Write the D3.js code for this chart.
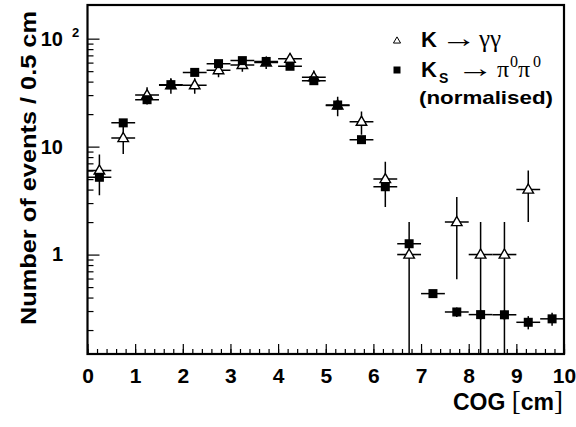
<!DOCTYPE html>
<html><head><meta charset="utf-8">
<script src="https://cdn.jsdelivr.net/npm/d3@7"></script>
<style>body{margin:0;background:#fff}</style>
</head><body>
<svg id="c" width="576" height="427"></svg>
<script>
// ---- data ----
const binCenters = [0.25,0.75,1.25,1.75,2.25,2.75,3.25,3.75,4.25,4.75,5.25,5.75,6.25,6.75,7.25,7.75,8.25,8.75,9.25,9.75];
const binHalfWidth = 0.25;
const kggCounts = [6,12,30,37,37,51,57,60,65,44,24,17,5,1,0,2,1,1,4,0];
const kggErrors = [2.45,3.46,5.48,6.08,6.08,7.14,7.55,7.75,8.06,6.63,4.9,4.12,2.24,1,0,1.41,1,1,2,0];
const ksValues = [5.2,16.6,27.2,37.5,48.7,58.7,62.6,61.5,55.5,40.8,24.3,11.6,4.25,1.26,0.435,0.294,0.278,0.277,0.236,0.254];
const ksErrors = [0.3,0.6,0.9,1.1,1.3,1.5,1.6,1.6,1.5,1.2,0.9,0.5,0.25,0.1,0.03,0.03,0.03,0.03,0.033,0.035];
const xTicks = [0,1,2,3,4,5,6,7,8,9,10];
const xMinorTicks = d3.range(0, 10.001, 0.2).map(v => +v.toFixed(1));
const yTicks = [1,10,100];
const yMinorTicks = [0.2,0.3,0.4,0.5,0.6,0.7,0.8,0.9,2,3,4,5,6,7,8,9,20,30,40,50,60,70,80,90];
const xTitle = "COG";
const yTitle = "Number of events / 0.5 cm";

// ---- layout ----
const L = 87.5, R = 564, T = 5, B = 354;
const sans = "'Liberation Sans', Arial, Helvetica, sans-serif";
const serif = "'Liberation Serif', 'DejaVu Serif', 'Times New Roman', serif";
const svg = d3.select("#c");
const x = d3.scaleLinear().domain([0,10]).range([L,R]);
const y = d3.scaleLog().domain([0.12,205]).range([B,T]);

svg.append("defs").append("clipPath").attr("id","clip")
  .append("rect").attr("x",L).attr("y",T).attr("width",R-L).attr("height",B-T);

// axes ticks (inside)
const gxm = svg.append("g").attr("transform",`translate(0,${B})`)
  .call(d3.axisBottom(x).tickValues(xMinorTicks).tickSize(-5).tickFormat(""));
const gx = svg.append("g").attr("transform",`translate(0,${B})`)
  .call(d3.axisBottom(x).tickValues(xTicks).tickSize(-10).tickPadding(14).tickFormat(d3.format("d")));
const gym = svg.append("g").attr("transform",`translate(${L},0)`)
  .call(d3.axisLeft(y).tickValues(yMinorTicks).tickSize(-6).tickFormat(""));
const gy = svg.append("g").attr("transform",`translate(${L},0)`)
  .call(d3.axisLeft(y).tickValues(yTicks).tickSize(-12).tickPadding(24.5)
    .tickFormat(d => d === 100 ? "10" : String(d)));
[gxm,gx,gym,gy].forEach(g => {
  g.select(".domain").remove();
  g.selectAll(".tick line").attr("stroke","#000").attr("stroke-width",1.2);
});
gx.selectAll(".tick text").attr("font-family",sans).attr("font-weight","bold")
  .attr("font-size",21).attr("fill","#000");
gy.selectAll(".tick text").attr("font-family",sans).attr("font-weight","bold")
  .attr("font-size",20).attr("fill","#000");
gy.selectAll(".tick").filter(d => d === 100).append("text")
  .attr("x",-15.5).attr("y",-2.5).attr("text-anchor","start")
  .attr("font-family",sans).attr("font-weight","bold").attr("font-size",13)
  .attr("fill","#000").text("2");

// data
const plot = svg.append("g").attr("clip-path","url(#clip)");
function errorBars(g, vals, errs) {
  binCenters.forEach((c,i) => {
    const v = vals[i]; if (!(v > 0)) return;
    const lo = v - errs[i];
    g.append("line").attr("x1",x(c-binHalfWidth)).attr("x2",x(c+binHalfWidth))
      .attr("y1",y(v)).attr("y2",y(v));
    g.append("line").attr("x1",x(c)).attr("x2",x(c))
      .attr("y1", lo > 0 ? y(lo) : B + 5).attr("y2",y(v+errs[i]));
  });
}
const gK = plot.append("g").attr("stroke","#000").attr("stroke-width",1.5);
errorBars(gK, kggCounts, kggErrors);
const tri = d3.symbol().type(d3.symbolTriangle).size(48);
plot.append("g").selectAll("path")
  .data(binCenters.map((c,i)=>({c, v:kggCounts[i]})).filter(d=>d.v>0))
  .join("path").attr("d",tri)
  .attr("transform",d=>`translate(${x(d.c)},${y(d.v)+0.5})`)
  .attr("fill","#fff").attr("stroke","#000").attr("stroke-width",1.4);
const gS = plot.append("g").attr("stroke","#000").attr("stroke-width",1.5);
errorBars(gS, ksValues, ksErrors);
plot.append("g").selectAll("rect")
  .data(binCenters.map((c,i)=>({c, v:ksValues[i]})))
  .join("rect")
  .attr("x",d=>x(d.c)-4.5).attr("y",d=>y(d.v)-4.5)
  .attr("width",9).attr("height",9).attr("fill","#000");

// frame
svg.append("rect").attr("x",L).attr("y",T).attr("width",R-L).attr("height",B-T)
  .attr("fill","none").attr("stroke","#000").attr("stroke-width",2.2);

// titles
const xt = svg.append("text").attr("x",563).attr("y",410).attr("text-anchor","end")
  .attr("font-family",sans).attr("font-weight","bold").attr("font-size",23).attr("fill","#000");
xt.append("tspan").text(xTitle + " ");
xt.append("tspan").attr("font-family",serif).attr("font-weight","normal").attr("font-size",27).text("[");
xt.append("tspan").text("cm");
xt.append("tspan").attr("font-family",serif).attr("font-weight","normal").attr("font-size",27).text("]");

svg.append("text").attr("transform","translate(36,168) rotate(-90)")
  .attr("text-anchor","middle").attr("font-family",sans).attr("font-weight","bold")
  .attr("font-size",22).attr("textLength",314).attr("lengthAdjust","spacingAndGlyphs")
  .attr("fill","#000").text(yTitle);

// legend
const lg = svg.append("g");
lg.append("path").attr("d",d3.symbol().type(d3.symbolTriangle).size(22))
  .attr("transform","translate(397,41)").attr("fill","#fff").attr("stroke","#000").attr("stroke-width",1);
lg.append("rect").attr("x",393.5).attr("y",66.5).attr("width",7).attr("height",7).attr("fill","#000");
function t(xp, yp, s, opts={}) {
  return lg.append("text").attr("x",xp).attr("y",yp)
    .attr("font-family",opts.serif ? serif : sans)
    .attr("font-weight",opts.serif ? "normal" : "bold")
    .attr("font-size",opts.size || 21).attr("fill","#000").text(s);
}
t(421,47,"K",{size:22});
t(441,47,"→",{serif:true,size:26}).attr("textLength",36).attr("lengthAdjust","spacingAndGlyphs");
t(479,47,"γγ",{serif:true,size:25});
const ks = t(421,77,"K",{size:22});
ks.append("tspan").attr("dx",2).attr("dy",6).attr("font-size",14).text("S");
t(457,77,"→",{serif:true,size:26}).attr("textLength",37).attr("lengthAdjust","spacingAndGlyphs");
t(497,77,"π",{serif:true,size:24});
t(510,67,"0",{serif:true,size:16});
t(518,77,"π",{serif:true,size:24});
t(533,67,"0",{serif:true,size:16});
t(419,104,"(normalised)",{size:19}).attr("textLength",134).attr("lengthAdjust","spacingAndGlyphs");
</script>
</body></html>
